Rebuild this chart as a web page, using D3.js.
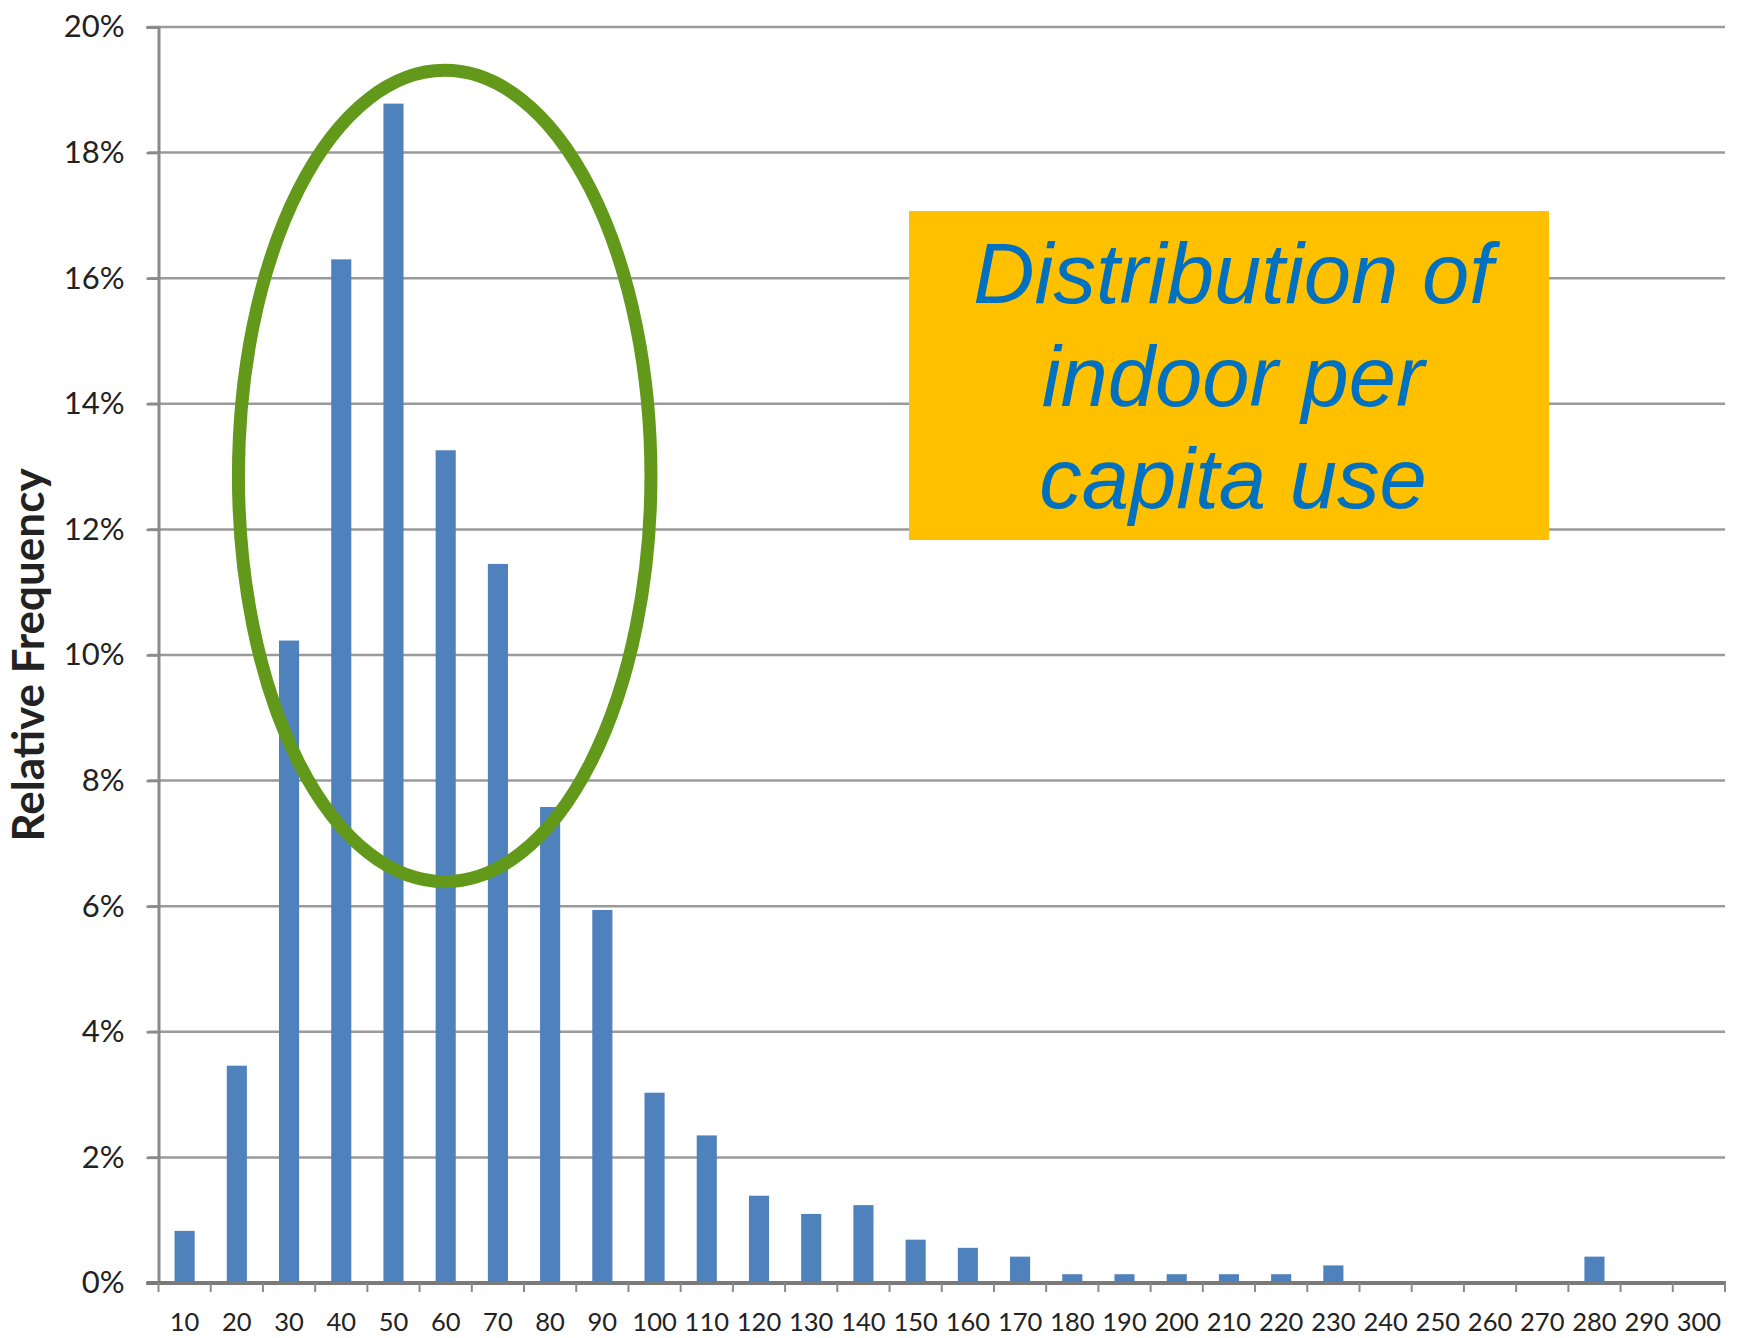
<!DOCTYPE html>
<html>
<head>
<meta charset="utf-8">
<script src="https://cdn.jsdelivr.net/npm/d3@7"></script>
<style>
  html, body { margin: 0; padding: 0; background: #ffffff; }
  svg { display: block; }
</style>
</head>
<body>
<svg id="chart" width="1738" height="1338"></svg>
<script>
// Indoor per-capita use bins (gallons per capita per day)
const categories = ["10","20","30","40","50","60","70","80","90","100",
  "110","120","130","140","150","160","170","180","190","200",
  "210","220","230","240","250","260","270","280","290","300"];

// Relative frequency of each bin
const relFreq = [0.0083, 0.0346, 0.1023, 0.1630, 0.1878, 0.1326, 0.1145, 0.0758, 0.0594, 0.0303,
  0.0235, 0.0139, 0.0110, 0.0124, 0.0069, 0.0056, 0.0042, 0.0014, 0.0014, 0.0014,
  0.0014, 0.0014, 0.0028, 0, 0, 0, 0, 0.0042, 0, 0];

// Y-axis tick values
const yTicks = [0, 0.02, 0.04, 0.06, 0.08, 0.10, 0.12, 0.14, 0.16, 0.18, 0.20];

// Title text lines
const titleLines = ["Distribution of", "indoor per", "capita use"];

// Highlighted peak region: centre bin, centre value, half-width in bins, half-height in value
const highlightCenterBin = "60";
const highlightCenterValue = 0.1285;
const highlightHalfBins = 3.95;
const highlightHalfValue = 0.0646;

const svg = d3.select("#chart");
const plot = { left: 158.5, right: 1725, top: 27, bottom: 1283 };

const x = d3.scaleBand().domain(categories).range([plot.left, plot.right]).padding(0);
const y = d3.scaleLinear().domain([0, 0.20]).range([plot.bottom, plot.top]);
const barW = x.step() * 0.385;

// Horizontal gridlines
svg.append("g")
  .selectAll("line")
  .data(yTicks.filter(d => d > 0))
  .join("line")
  .attr("x1", plot.left - 10).attr("x2", plot.right)
  .attr("y1", d => y(d)).attr("y2", d => y(d))
  .attr("stroke", "#9a9a9a").attr("stroke-width", 2.5);

// Bars
svg.append("g")
  .selectAll("rect")
  .data(categories.map((c, i) => ({ c, v: relFreq[i] })).filter(d => d.v > 0))
  .join("rect")
  .attr("x", d => x(d.c) + (x.step() - barW) / 2)
  .attr("width", barW)
  .attr("y", d => y(d.v))
  .attr("height", d => y(0) - y(d.v))
  .attr("fill", "#4F81BD");

// Y axis
const yAxis = svg.append("g")
  .attr("transform", `translate(${plot.left},0)`)
  .call(d3.axisLeft(y).tickValues(yTicks).tickFormat(d3.format(".0%")).tickSize(12).tickPadding(22));
yAxis.select(".domain").attr("stroke", "#8a8a8a").attr("stroke-width", 3);
yAxis.selectAll(".tick line").attr("stroke", "#8a8a8a").attr("stroke-width", 2.5);
yAxis.selectAll(".tick text")
  .attr("font-family", "Lato, 'Open Sans', sans-serif")
  .attr("font-size", 31)
  .attr("fill", "#222");

// X axis baseline and bin boundary ticks
svg.append("line")
  .attr("x1", plot.left - 12).attr("x2", plot.right + 1)
  .attr("y1", y(0)).attr("y2", y(0))
  .attr("stroke", "#7a7a7a").attr("stroke-width", 4);

const boundaries = categories.map(c => x(c)).concat([x(categories[categories.length - 1]) + x.step()]);
svg.append("g")
  .selectAll("line")
  .data(boundaries)
  .join("line")
  .attr("x1", d => d).attr("x2", d => d)
  .attr("y1", y(0)).attr("y2", y(0) + 9)
  .attr("stroke", "#8a8a8a").attr("stroke-width", 2);

const xAxis = svg.append("g")
  .attr("transform", `translate(0,${y(0)})`)
  .call(d3.axisBottom(x).tickSize(0).tickPadding(30));
xAxis.select(".domain").remove();
xAxis.selectAll(".tick text")
  .attr("font-family", "Lato, 'Open Sans', sans-serif")
  .attr("font-size", 25.5)
  .attr("fill", "#222");

// Y axis title
svg.append("text")
  .attr("transform", "translate(44,655) rotate(-90)")
  .attr("text-anchor", "middle")
  .attr("font-family", "Lato, 'Open Sans', sans-serif")
  .attr("font-weight", "bold")
  .attr("font-size", 44)
  .attr("fill", "#222")
  .text("Relative Frequency");

// Ellipse around the peak bins
const cx = x(highlightCenterBin) + x.step() / 2;
svg.append("ellipse")
  .attr("cx", cx - 1)
  .attr("cy", y(highlightCenterValue))
  .attr("rx", highlightHalfBins * x.step())
  .attr("ry", y(0) - y(highlightHalfValue))
  .attr("fill", "none")
  .attr("stroke", "#62991A")
  .attr("stroke-width", 13);

// Title box
const box = { x: 909, y: 211, w: 640, h: 329 };
svg.append("rect")
  .attr("x", box.x).attr("y", box.y)
  .attr("width", box.w).attr("height", box.h)
  .attr("fill", "#FFC000");

svg.append("g")
  .selectAll("text")
  .data(titleLines)
  .join("text")
  .attr("x", box.x + box.w / 2 + 4)
  .attr("y", (d, i) => 303 + i * 102.5)
  .attr("text-anchor", "middle")
  .attr("font-family", "'Liberation Sans', Arial, sans-serif")
  .attr("font-style", "italic")
  .attr("font-size", 85)
  .attr("fill", "#0070C0")
  .text(d => d);
</script>
</body>
</html>
